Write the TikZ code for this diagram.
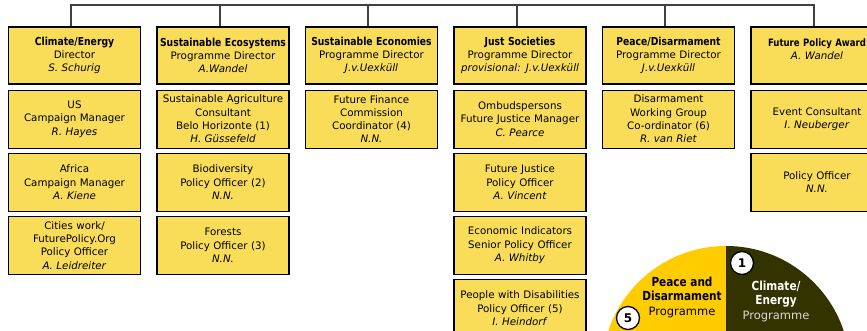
\documentclass[tikz,border=0pt]{standalone}
\usepackage{fontspec}
\setmainfont{DejaVu Sans}
\newfontfamily\headfont[FakeStretch=0.84]{DejaVu Sans}
\usepackage{xcolor}
\definecolor{colorBox}{RGB}{249,221,88}
\definecolor{colorPeace}{RGB}{255,204,0}
\definecolor{colorClimate}{RGB}{51,51,0}
\colorlet{colorWire}{black!75}
\usepackage{tikz}
\usetikzlibrary{positioning}
\newcommand{\boxhead}[2][11]{{\headfont\bfseries\fontsize{#1}{13.3}\selectfont #2}}
\newcommand{\piehead}[1]{{\headfont\bfseries\fontsize{12.5}{14.5}\selectfont #1}}

\begin{document}
\begin{tikzpicture}[x=1pt, y=-1pt, node distance=4pt and 15.4pt,
  box/.style={draw=black, line width=1.1pt, fill=colorBox, minimum width=132pt, minimum height=58pt, text width=128pt, align=center, inner sep=2pt, font=\fontsize{10.3}{13.3}\selectfont},
  head/.style={box, minimum height=57pt},
  wire/.style={draw=colorWire, line width=2pt},
  num/.style={circle, draw=black, line width=1.3pt, fill=white, minimum size=23pt, inner sep=0pt, font=\bfseries\fontsize{12}{12}\selectfont},
  pie/.style={align=center, font=\fontsize{11.5}{14.5}\selectfont}]
\useasboundingbox (0,0) rectangle (867,331);
\clip (0,0) rectangle (867,331);

% column heads
\node[head] (h1) at (74.5,55.5) {\boxhead{Climate/Energy}\\Director\\\textit{S. Schurig}};
\node[head, right=of h1] (h2) {\boxhead{Sustainable Ecosystems}\\Programme Director\\\textit{A.Wandel}};
\node[head, right=of h2] (h3) {\boxhead{Sustainable Economies}\\Programme Director\\\textit{J.v.Uexküll}};
\node[head, right=of h3] (h4) {\boxhead{Just Societies}\\Programme Director\\\textit{provisional: J.v.Uexküll}};
\node[head, right=of h4] (h5) {\boxhead{Peace/Disarmament}\\Programme Director\\\textit{J.v.Uexküll}};
\node[head, right=of h5] (h6) {\boxhead[10.2]{Future Policy Award}\\\textit{A. Wandel}\\~};

% staff
\node[box, below=5pt of h1] (h1a) {US\\Campaign Manager\\\textit{R. Hayes}};
\node[box, below=of h1a] (h1b) {Africa\\Campaign Manager\\\textit{A. Kiene}};
\node[box, below=of h1b] (h1c) {Cities work/\\FuturePolicy.Org\\Policy Officer\\\textit{A. Leidreiter}};

\node[box, below=5pt of h2] (h2a) {Sustainable Agriculture\\Consultant\\Belo Horizonte (1)\\\textit{H. Güssefeld}};
\node[box, below=of h2a] (h2b) {Biodiversity\\Policy Officer (2)\\\textit{N.N.}};
\node[box, below=of h2b] (h2c) {Forests\\Policy Officer (3)\\\textit{N.N.}};

\node[box, below=5pt of h3] (h3a) {Future Finance\\Commission\\Coordinator (4)\\\textit{N.N.}};

\node[box, below=5pt of h4] (h4a) {Ombudspersons\\Future Justice Manager\\\textit{C. Pearce}};
\node[box, below=of h4a] (h4b) {Future Justice\\Policy Officer\\\textit{A. Vincent}};
\node[box, below=of h4b] (h4c) {Economic Indicators\\Senior Policy Officer\\\textit{A. Whitby}};
\node[box, below=of h4c] (h4d) {People with Disabilities\\Policy Officer (5)\\\textit{I. Heindorf}};

\node[box, below=5pt of h5] (h5a) {Disarmament\\Working Group\\Co-ordinator (6)\\\textit{R. van Riet}};

\node[box, below=5pt of h6] (h6a) {Event Consultant\\\textit{I. Neuberger}};
\node[box, below=of h6a] (h6b) {Policy Officer\\\textit{N.N.}};

% bar on top
\coordinate (bar) at (0,5.5);
\draw[wire] ([xshift=-3.5pt]h1.north) |- ([xshift=-3.5pt]h6.north |- bar) -- ([xshift=-3.5pt]h6.north);
\foreach \i in {2,...,5}
  \draw[wire] ([xshift=-3.5pt]h\i.north) -- ([xshift=-3.5pt]h\i.north |- bar);

% programme wheel
\fill[colorPeace] (726,246) arc[start angle=270, end angle=90, radius=124] -- cycle;
\fill[colorClimate] (726,246) arc[start angle=-90, end angle=90, radius=124] -- cycle;
\node[pie] (peace) at (682,297) {\piehead{Peace and}\\\piehead{Disarmament}\\Programme};
\node[pie, text=white] (climate) at (776,301) {\piehead{Climate/}\\\piehead{Energy}\\\textcolor{black!15}{Programme}};
\node[num] (n1) at (742,263) {1};
\node[num] (n5) at (628,318) {5};
\end{tikzpicture}
\end{document}
